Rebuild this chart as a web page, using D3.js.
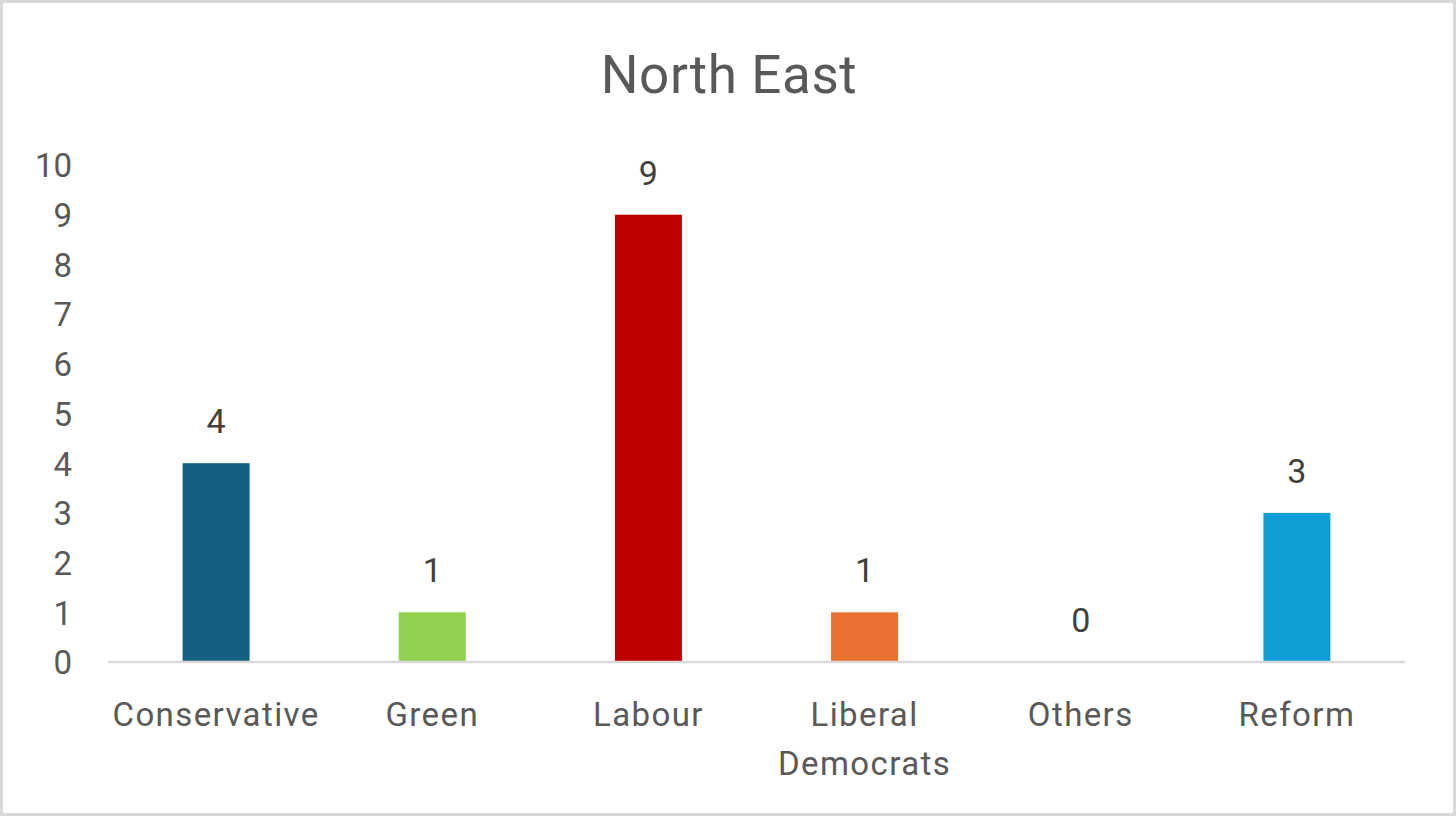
<!DOCTYPE html>
<html>
<head>
<meta charset="utf-8">
<script src="https://cdn.jsdelivr.net/npm/d3@7"></script>
<style>
  html, body { margin: 0; padding: 0; background: #fff; }
  svg { display: block; }
  text { font-family: Roboto, "Open Sans", sans-serif; }
</style>
</head>
<body>
<svg id="chart" width="1456" height="816"></svg>
<script>
const title = "North East";
const categories = ["Conservative", "Green", "Labour", "Liberal Democrats", "Others", "Reform"];
const categoryLines = [["Conservative"], ["Green"], ["Labour"], ["Liberal", "Democrats"], ["Others"], ["Reform"]];
const seats = [4, 1, 9, 1, 0, 3];
const barColors = ["#156082", "#92D050", "#C00000", "#E97132", "#7F7F7F", "#0F9ED5"];
const yTicks = [0, 1, 2, 3, 4, 5, 6, 7, 8, 9, 10];

const svg = d3.select("#chart");
const W = 1456, H = 816;

// border
svg.append("rect")
  .attr("x", 1.5).attr("y", 1.5)
  .attr("width", W - 3).attr("height", H - 3)
  .attr("fill", "#fff").attr("stroke", "#D9D9D9").attr("stroke-width", 3);

const x = d3.scaleBand().domain(categories).range([108, 1405]).paddingInner(0.69).paddingOuter(0.345);
const y = d3.scaleLinear().domain([0, 10]).range([662, 165]);

// title
svg.append("text")
  .attr("x", 729).attr("y", 92.5)
  .attr("text-anchor", "middle")
  .attr("fill", "#595959")
  .attr("font-size", 53)
  .attr("letter-spacing", 0.6)
  .text(title);

// y axis labels
const yAxis = d3.axisLeft(y).tickValues(yTicks).tickSize(0).tickPadding(0).tickFormat(d3.format("d"));
const gy = svg.append("g").attr("transform", "translate(72,0)").call(yAxis);
gy.select(".domain").remove();
gy.selectAll("text")
  .attr("fill", "#595959")
  .attr("font-size", 33)
  .attr("dy", "0.36em")
  .style("font-family", "Roboto, sans-serif");

// bars
svg.append("g").selectAll("rect")
  .data(categories)
  .join("rect")
  .attr("x", d => x(d))
  .attr("width", x.bandwidth())
  .attr("y", (d, i) => y(seats[i]))
  .attr("height", (d, i) => y(0) - y(seats[i]))
  .attr("fill", (d, i) => barColors[i]);

// x axis line
svg.append("line")
  .attr("x1", 108).attr("x2", 1405)
  .attr("y1", y(0)).attr("y2", y(0))
  .attr("stroke", "#D9D9D9").attr("stroke-width", 2.5);

// data labels
svg.append("g").selectAll("text")
  .data(categories)
  .join("text")
  .attr("x", d => x(d) + x.bandwidth() / 2)
  .attr("y", (d, i) => y(seats[i]) - 30)
  .attr("text-anchor", "middle")
  .attr("fill", "#404040")
  .attr("font-size", 34)
  .text((d, i) => seats[i]);

// category labels
const cl = svg.append("g").selectAll("text")
  .data(categories)
  .join("text")
  .attr("x", d => x(d) + x.bandwidth() / 2)
  .attr("y", 726)
  .attr("text-anchor", "middle")
  .attr("fill", "#595959")
  .attr("font-size", 33)
  .attr("letter-spacing", 1.4);
cl.each(function(d, i) {
  const t = d3.select(this);
  categoryLines[i].forEach((ln, j) => {
    t.append("tspan")
      .attr("x", x(d) + x.bandwidth() / 2)
      .attr("dy", j === 0 ? 0 : 49)
      .text(ln);
  });
});
</script>
</body>
</html>
